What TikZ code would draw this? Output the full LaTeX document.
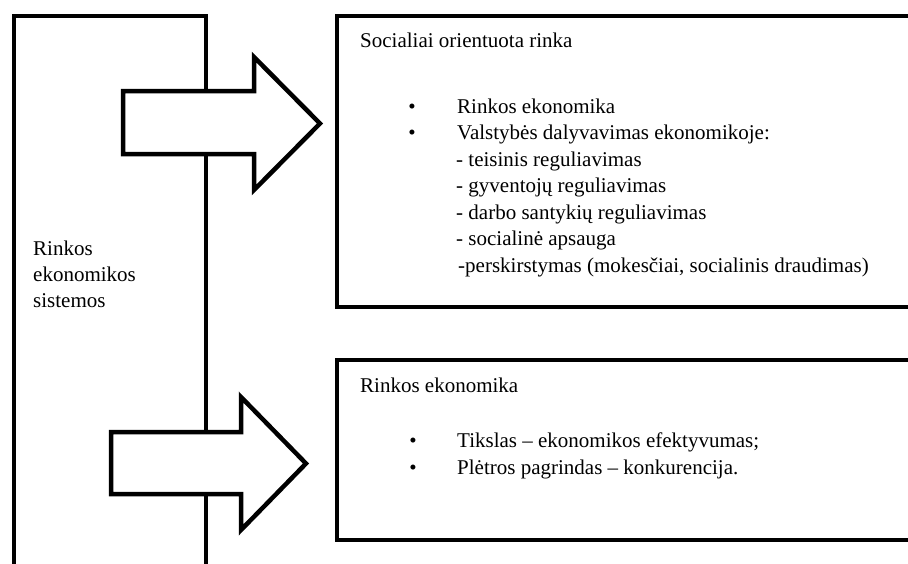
\documentclass[tikz,border=0pt]{standalone}
\usepackage{fontspec}
\setmainfont{Liberation Serif}
\begin{document}
\begin{tikzpicture}[x=1pt,y=-1pt,
  frame/.style={line width=4.5pt,line join=miter},
  blockarrow/.style={line width=4.5pt,fill=white,line join=miter},
  txt/.style={anchor=base west,inner sep=0pt,font=\fontsize{21}{26.5}\selectfont},
  dot/.style={anchor=base,inner sep=0pt,font=\fontsize{21}{26.5}\selectfont}]
\useasboundingbox (0,0) rectangle (908,563);
\clip (0,0) rectangle (908,563);

% open frame on the left (runs off the bottom edge)
\coordinate (lbl) at (14,570);
\coordinate (ltl) at (14,16);
\coordinate (ltr) at (206,16);
\coordinate (lbr) at (206,570);
\draw[frame] (lbl) -- (ltl) -- (ltr) -- (lbr);

% block arrows
\draw[blockarrow] (123,91) -- (254,91) -- (254,57) -- (320,123.5)
  -- (254,190) -- (254,154) -- (123,154) -- cycle;
\draw[blockarrow] (111,432) -- (241,432) -- (241,397) -- (306,463.5)
  -- (241,530) -- (241,494) -- (111,494) -- cycle;

% boxes on the right, open towards the right edge
\coordinate (aTR) at (915,16);
\coordinate (aTL) at (337,16);
\coordinate (aBL) at (337,307);
\coordinate (aBR) at (915,307);
\draw[frame] (aTR) -- (aTL) -- (aBL) -- (aBR);
\coordinate (bTR) at (915,360);
\coordinate (bTL) at (337,360);
\coordinate (bBL) at (337,540);
\coordinate (bBR) at (915,540);
\draw[frame] (bTR) -- (bTL) -- (bBL) -- (bBR);

% left label
\node[txt] (l1) at (33,255) {Rinkos};
\node[txt] (l2) at (33,281) {ekonomikos};
\node[txt] (l3) at (33,307) {sistemos};

% upper box text
\node[txt] (t0) at (360,47) {Socialiai orientuota rinka};
\node[dot] (d1) at (412,113) {\textbullet};
\node[txt] (t1) at (457,113) {Rinkos ekonomika};
\node[dot] (d2) at (412,139.5) {\textbullet};
\node[txt] (t2) at (457,139.5) {Valstybės dalyvavimas ekonomikoje:};
\node[txt] (t3) at (456,166) {- teisinis reguliavimas};
\node[txt] (t4) at (456,192.5) {- gyventojų reguliavimas};
\node[txt] (t5) at (456,219) {- darbo santykių reguliavimas};
\node[txt] (t6) at (456,245.5) {- socialinė apsauga};
\node[txt] (t7) at (458,272) {-perskirstymas (mokesčiai, socialinis draudimas)};

% lower box text
\node[txt] (u0) at (360,392) {Rinkos ekonomika};
\node[dot] (e1) at (413,447) {\textbullet};
\node[txt] (u1) at (457,447) {Tikslas – ekonomikos efektyvumas;};
\node[dot] (e2) at (413,474) {\textbullet};
\node[txt] (u2) at (457,474) {Plėtros pagrindas – konkurencija.};
\end{tikzpicture}
\end{document}
